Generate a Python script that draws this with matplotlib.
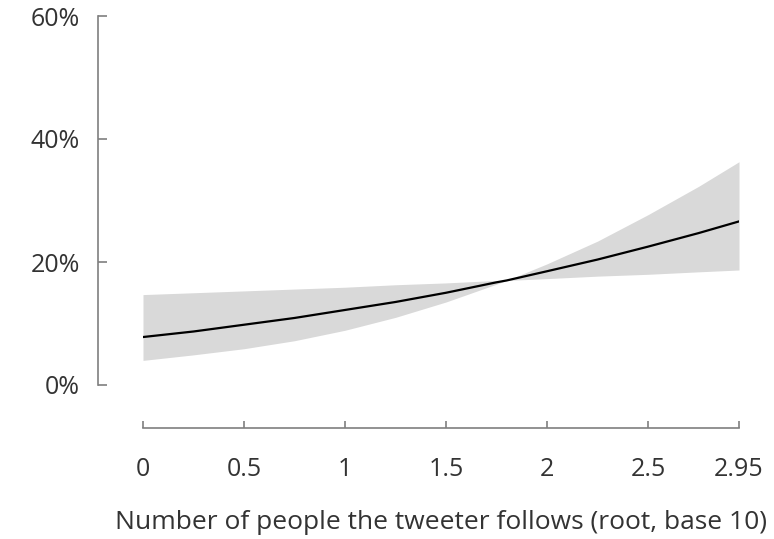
import matplotlib
matplotlib.use('Agg')
import matplotlib.pyplot as plt
import matplotlib.ticker as ticker
import numpy as np

# predicted share and 95% band vs. followees (root, base 10)
follows = [0.0, 0.25, 0.5, 0.75, 1.0, 1.25, 1.5, 1.75, 1.8, 2.0, 2.25, 2.5, 2.75, 2.95]
pred = [7.8, 8.7, 9.8, 10.9, 12.2, 13.5, 15.0, 16.7, 17.0, 18.5, 20.4, 22.5, 24.7, 26.6]
upper = [14.7, 15.0, 15.3, 15.6, 15.9, 16.3, 16.6, 17.0, 17.0, 19.7, 23.4, 27.7, 32.3, 36.3]
lower = [4.0, 4.9, 5.9, 7.2, 8.9, 11.0, 13.5, 16.4, 17.0, 17.3, 17.7, 18.0, 18.4, 18.7]

xticks = [0, 0.5, 1, 1.5, 2, 2.5, 2.95]
xticklabels = ['0', '0.5', '1', '1.5', '2', '2.5', '2.95']
yticks = [0, 20, 40, 60]

plt.rcParams['font.family'] = ['Open Sans', 'DejaVu Sans']
plt.rcParams['font.size'] = 18
axis_grey = '#7f7f7f'
text_grey = '#333333'

fig = plt.figure(figsize=(7.74, 5.39), dpi=100)
ax = fig.add_axes([143/774, 1 - 385/539, 596/774, 369/539])

ax.fill_between(follows, lower, upper, color='#d9d9d9', linewidth=0)
ax.plot(follows, pred, color='black', linewidth=1.6)

ax.set_xlim(0, 2.95)
ax.set_ylim(0, 60)

for s in ['top', 'right']:
    ax.spines[s].set_visible(False)
ax.spines['left'].set_position(('outward', 32.4))
ax.spines['bottom'].set_position(('outward', 31))
for s in ['left', 'bottom']:
    ax.spines[s].set_color(axis_grey)
    ax.spines[s].set_linewidth(1.2)

ax.set_xticks(xticks)
ax.set_xticklabels(xticklabels)
ax.set_yticks(yticks)
ax.yaxis.set_major_formatter(ticker.FuncFormatter(lambda v, p: '%d%%' % v))

ax.tick_params(axis='y', direction='in', length=6.5, width=1.2, color=axis_grey,
               labelcolor=text_grey, pad=13)
ax.tick_params(axis='x', direction='in', length=5, width=1.2, color=axis_grey,
               labelcolor=text_grey, pad=21)

ax.set_xlabel('Number of people the tweeter follows (root, base 10)',
              color=text_grey, fontsize=19, labelpad=20)

plt.savefig('out.png', dpi=100)
